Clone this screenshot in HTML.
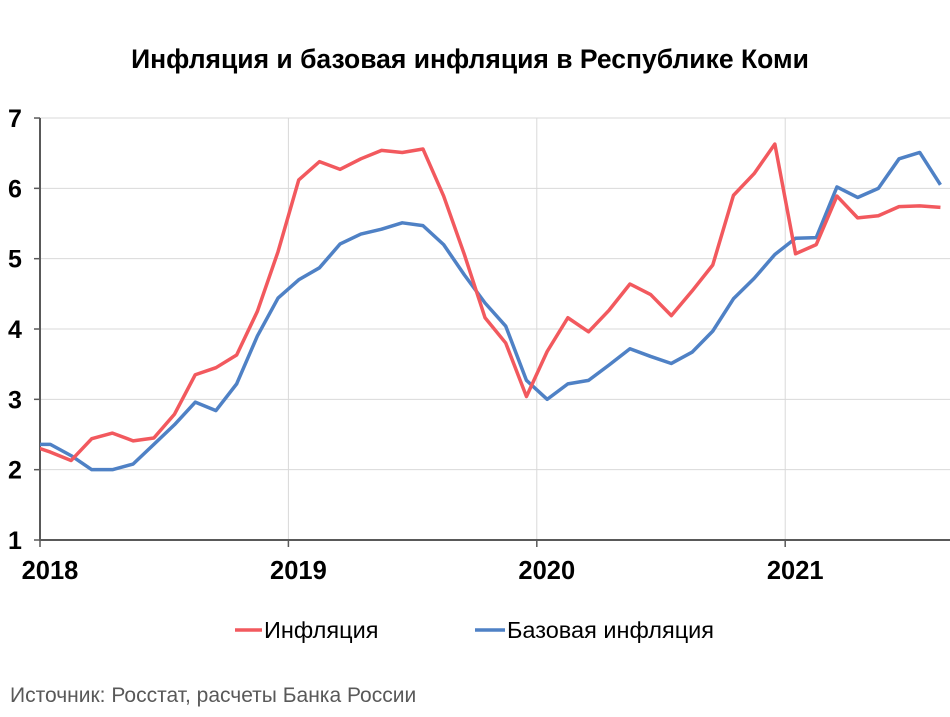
<!DOCTYPE html>
<html><head><meta charset="utf-8"><style>
body{margin:0;background:#fff;font-family:"Liberation Sans",sans-serif}
svg text{font-family:"Liberation Sans",sans-serif}
</style></head><body>
<svg width="950" height="712" id="c">
<text x="470" y="68" text-anchor="middle" font-size="26.5" font-weight="bold" fill="#000">Инфляция и базовая инфляция в Республике Коми</text>
<g id="grid"></g><g id="axes"></g>
<clipPath id="clip"><rect x="40" y="100" width="910" height="450"/></clipPath>
<g id="series" clip-path="url(#clip)"></g>
<g>
<line x1="235" y1="630" x2="262" y2="630" stroke="#f2595e" stroke-width="3.5"/>
<text x="264" y="638" font-size="23.5" fill="#000">Инфляция</text>
<line x1="475" y1="630" x2="505" y2="630" stroke="#4f81c5" stroke-width="3.5"/>
<text x="507" y="638" font-size="23.5" fill="#000">Базовая инфляция</text>
</g>
<text x="10" y="702" font-size="21" fill="#595959">Источник: Росстат, расчеты Банка России</text>
</svg>
<script>
const yTicks=[1,2,3,4,5,6,7];
const xLabels=["2018","2019","2020","2021"];
// monthly values, first = Dec 2017, then Jan 2018 ... Aug 2021
const inflation=[2.35,2.25,2.13,2.44,2.52,2.41,2.45,2.79,3.35,3.45,3.63,4.25,5.10,6.12,6.38,6.27,6.42,6.54,6.51,6.56,5.89,5.06,4.16,3.80,3.04,3.68,4.16,3.96,4.27,4.64,4.49,4.19,4.54,4.91,5.90,6.21,6.63,5.07,5.20,5.89,5.58,5.61,5.74,5.75,5.73];
const core=[2.36,2.36,2.20,2.00,2.00,2.08,2.36,2.64,2.96,2.84,3.22,3.90,4.44,4.70,4.87,5.21,5.35,5.42,5.51,5.47,5.20,4.77,4.37,4.04,3.27,3.00,3.22,3.27,3.49,3.72,3.61,3.51,3.67,3.97,4.43,4.72,5.06,5.29,5.30,6.02,5.87,6.00,6.42,6.51,6.05];
const NS='http://www.w3.org/2000/svg';
const X0=40,STEP=20.7;
const y=v=>540-(v-1)*70.33;
const xm=i=>X0+STEP*(i-0.5); // i=0 -> Dec 2017
const xy=k=>X0+248.4*k;
function mk(t,a,p){const e=document.createElementNS(NS,t);for(const k in a)e.setAttribute(k,a[k]);p.appendChild(e);return e;}
const grid=document.getElementById('grid'),axes=document.getElementById('axes'),ser=document.getElementById('series');
yTicks.forEach(v=>{
 if(v>1){const l=mk('line',{x1:40,x2:950,y1:y(v),y2:y(v),stroke:'#d9d9d9','stroke-width':1},grid);
 
 }
 const tk=mk('line',{x1:34,x2:40,y1:y(v),y2:y(v),stroke:'#595959','stroke-width':1.5},axes);
 
 
 const t=mk('text',{x:15,y:y(v)+9,'font-size':25,'font-weight':'bold','text-anchor':'middle'},axes);t.textContent=v;
 
 
});
xLabels.forEach((s,k)=>{
 if(k>0){const g=mk('line',{x1:xy(k),x2:xy(k),y1:118,y2:540,stroke:'#d9d9d9','stroke-width':1},grid);
 
 }
 const tk=mk('line',{x1:xy(k),x2:xy(k),y1:540,y2:547,stroke:'#595959','stroke-width':1.5},axes);
 
 
 const t=mk('text',{x:xy(k)+10,y:579,'font-size':25.5,'font-weight':'bold','text-anchor':'middle'},axes);t.textContent=s;
 
 
});
const ya=mk('line',{x1:40,x2:40,y1:118,y2:541,stroke:'#595959','stroke-width':2},axes);


const xa=mk('line',{x1:39,x2:950,y1:540,y2:540,stroke:'#595959','stroke-width':2},axes);


function line(d,c,n){const p=mk('polyline',{points:d.map((v,i)=>xm(i)+','+y(v)).join(' '),fill:'none',stroke:c,'stroke-width':3.5,'stroke-linejoin':'round'},ser);
 
 }
line(core,'#4f81c5','core-inflation-line');
line(inflation,'#f2595e','inflation-line');
</script>
</body></html>
